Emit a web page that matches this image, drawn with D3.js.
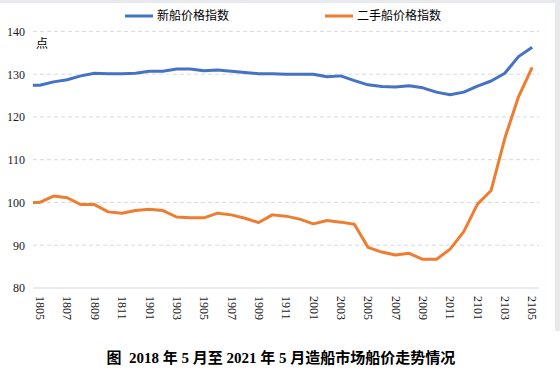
<!DOCTYPE html>
<html><head><meta charset="utf-8">
<script src="https://cdn.jsdelivr.net/npm/d3@7"></script>
<style>
html,body{margin:0;padding:0;background:#fff;}
svg{display:block;}
</style>
</head><body>
<svg id="chart" width="560" height="379"></svg>
<script>
const months = ["1805","1806","1807","1808","1809","1810","1811","1812","1901","1902","1903","1904","1905","1906","1907","1908","1909","1910","1911","1912","2001","2002","2003","2004","2005","2006","2007","2008","2009","2010","2011","2012","2101","2102","2103","2104","2105"];
const newShip = [127.4,128.2,128.7,129.6,130.2,130.1,130.1,130.2,130.7,130.7,131.2,131.2,130.8,131.0,130.7,130.4,130.1,130.1,130.0,130.0,130.0,129.4,129.6,128.5,127.5,127.1,127.0,127.3,126.8,125.8,125.2,125.8,127.2,128.4,130.2,134.1,136.3];
const usedShip = [100.0,101.5,101.1,99.5,99.5,97.8,97.5,98.1,98.4,98.1,96.6,96.4,96.4,97.5,97.1,96.3,95.3,97.1,96.8,96.1,95.0,95.8,95.4,94.9,89.5,88.4,87.7,88.1,86.7,86.7,89.1,93.2,99.6,102.8,115.0,124.7,131.6];
const yTicks = [80,90,100,110,120,130,140];
const seriesNames = ["新船价格指数","二手船价格指数"];
const seriesColors = ["#4472C4","#ED7D31"];
const yUnit = "点";
const title = "图  2018 年 5 月至 2021 年 5 月造船市场船价走势情况";

const svg = d3.select("#chart");
// frame background strips
svg.append("rect").attr("x",0).attr("y",0).attr("width",560).attr("height",3).attr("fill","#e7e9ec");
svg.append("rect").attr("x",555).attr("y",0).attr("width",5).attr("height",331).attr("fill","#e7e9ec");

const x = d3.scalePoint().domain(months).range([33,539]).padding(0.5);
const y = d3.scaleLinear().domain([80,140]).range([288,31.4]);

// grid
svg.append("g").selectAll("line").data(yTicks.filter(t=>t>80)).join("line")
  .attr("x1",33).attr("x2",539)
  .attr("y1",d=>y(d)).attr("y2",d=>y(d))
  .attr("stroke","#d9d9d9").attr("stroke-width",1).attr("stroke-dasharray","4,3");

// y axis labels
const ya = svg.append("g").attr("transform","translate(27,0)")
  .call(d3.axisLeft(y).tickValues(yTicks).tickSize(0).tickPadding(2));
ya.select(".domain").remove();
ya.selectAll("text").attr("font-family","'Liberation Serif','Times New Roman',serif")
  .attr("font-size",12).attr("fill","#1a1a1a");

// x axis
const xa = svg.append("g").attr("transform","translate(0,288)")
  .call(d3.axisBottom(x).tickValues(months.filter((d,i)=>i%2===0)).tickSize(0));
xa.select(".domain").attr("d","M33,0H539").attr("stroke","#d9d9d9").attr("stroke-width",1);
xa.selectAll("text")
  .attr("font-family","'Liberation Serif','Times New Roman',serif")
  .attr("font-size",12).attr("fill","#1a1a1a")
  .attr("y",0).attr("dy","0.35em")
  .attr("text-anchor","start")
  .attr("transform","translate(0,8) rotate(90)");

// lines
const line = d3.line().x(d=>d[0]).y(d=>y(d[1]));
[newShip, usedShip].forEach((vals,i)=>{
  const pts = [[x.range()[0], vals[0]]].concat(vals.map((v,j)=>[x(months[j]), v]));
  svg.append("path").attr("d",line(pts)).attr("fill","none")
    .attr("stroke",seriesColors[i]).attr("stroke-width",3)
    .attr("stroke-linejoin","round");
});

// unit
svg.append("text").attr("x",36).attr("y",48).text(yUnit)
  .attr("font-family","'Noto Sans CJK SC',sans-serif").attr("font-size",12).attr("fill","#000");

// legend
const legX = [125,325];
seriesNames.forEach((n,i)=>{
  const g = svg.append("g").attr("transform",`translate(${legX[i]},16)`);
  g.append("line").attr("x1",0).attr("x2",28).attr("y1",0).attr("y2",0)
    .attr("stroke",seriesColors[i]).attr("stroke-width",3);
  g.append("text").attr("x",32).attr("y",0).attr("dy","0.35em").text(n)
    .attr("font-family","'Noto Sans CJK SC',sans-serif").attr("font-size",12).attr("fill","#000");
});

// title
svg.append("text").attr("x",281).attr("y",363).attr("text-anchor","middle").text(title)
  .style("white-space","pre")
  .attr("font-family","'Liberation Serif','Noto Sans CJK SC',serif").attr("font-weight","bold")
  .attr("font-size",15).attr("fill","#000");
</script>
</body></html>
